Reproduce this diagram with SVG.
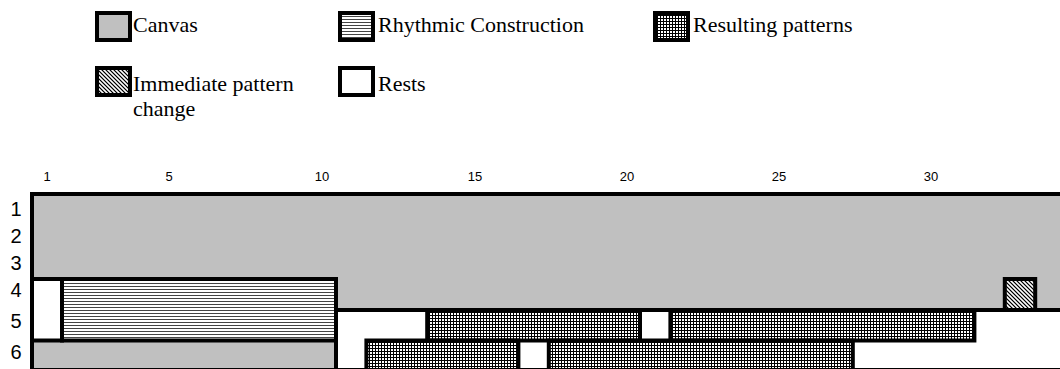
<svg xmlns="http://www.w3.org/2000/svg" width="1060" height="369" viewBox="0 0 1060 369">
<defs>
<pattern id="hlines" width="4" height="3" patternUnits="userSpaceOnUse">
<rect width="4" height="3" fill="#fff"/>
<rect y="1" width="4" height="1" fill="#444"/>
</pattern>
<pattern id="grid" width="3" height="3" patternUnits="userSpaceOnUse">
<rect width="3" height="3" fill="#000"/>
<rect x="1" y="1" width="2" height="2" fill="#fff"/>
</pattern>
<pattern id="diag" width="4" height="4" patternUnits="userSpaceOnUse">
<rect width="4" height="4" fill="#a8a8a8"/>
<rect x="0" y="0" width="1" height="1" fill="#000"/>
<rect x="1" y="1" width="1" height="1" fill="#000"/>
<rect x="2" y="2" width="1" height="1" fill="#000"/>
<rect x="3" y="3" width="1" height="1" fill="#000"/>
<rect x="2" y="0" width="1" height="1" fill="#fff"/>
<rect x="3" y="1" width="1" height="1" fill="#fff"/>
<rect x="0" y="2" width="1" height="1" fill="#fff"/>
<rect x="1" y="3" width="1" height="1" fill="#fff"/>
</pattern>
</defs>
<style>
.b{stroke:#000;stroke-width:4;}
.canvas{fill:#c0c0c0;}
.rest{fill:#fff;}
.rc{fill:url(#hlines);}
.rp{fill:url(#grid);}
.ipc{fill:url(#diag);}
.leg{font-family:"Liberation Serif","Times New Roman",serif;font-size:22px;fill:#000;}
.col{font-family:"Liberation Sans",Arial,sans-serif;font-size:13px;fill:#000;text-anchor:middle;}
.row{font-family:"Liberation Sans",Arial,sans-serif;font-size:20px;fill:#000;text-anchor:middle;}
</style>
<rect width="1060" height="369" fill="#fff"/>

<g id="legend-canvas">
<rect class="b canvas" x="97" y="13" width="33" height="27"/>
<text class="leg" x="133" y="32">Canvas</text>
</g>
<g id="legend-rhythmic">
<rect class="b rc" x="340" y="13" width="33" height="27"/>
<text class="leg" x="378" y="32">Rhythmic Construction</text>
</g>
<g id="legend-resulting">
<rect class="b rp" x="655" y="13" width="33" height="27"/>
<text class="leg" x="693" y="32">Resulting patterns</text>
</g>
<g id="legend-immediate">
<rect class="b ipc" x="97" y="68" width="33" height="27"/>
<text class="leg" x="133" y="91">Immediate pattern</text>
<text class="leg" x="133" y="116">change</text>
</g>
<g id="legend-rests">
<rect class="b rest" x="340" y="68" width="33" height="27"/>
<text class="leg" x="378" y="91">Rests</text>
</g>

<g id="column-labels">
<text class="col" x="47" y="181">1</text>
<text class="col" x="169" y="181">5</text>
<text class="col" x="322" y="181">10</text>
<text class="col" x="475" y="181">15</text>
<text class="col" x="627" y="181">20</text>
<text class="col" x="779" y="181">25</text>
<text class="col" x="931" y="181">30</text>
</g>
<g id="row-labels">
<text class="row" x="16" y="216">1</text>
<text class="row" x="16" y="243">2</text>
<text class="row" x="16" y="270">3</text>
<text class="row" x="16" y="297">4</text>
<text class="row" x="16" y="328">5</text>
<text class="row" x="16" y="359">6</text>
</g>

<g id="canvas">
<rect class="b canvas" x="32" y="194" width="1040" height="176"/>
</g>
<g id="rests-area">
<rect class="rest" x="336" y="310" width="730" height="58"/>
<line class="b" x1="336" y1="310" x2="1066" y2="310"/>
<line class="b" x1="336" y1="279" x2="336" y2="370"/>
</g>
<g id="rhythmic-construction">
<rect class="b rest" x="32" y="279" width="30" height="61.5"/>
<rect class="b rc" x="62" y="279" width="274" height="61.5"/>
</g>
<g id="pattern-r5-a">
<rect class="b rp" x="427.2" y="310" width="212.8" height="30.5"/>
</g>
<g id="pattern-r5-b">
<rect class="b rp" x="670.4" y="310" width="304" height="30.5"/>
</g>
<g id="pattern-r6-a">
<rect class="b rp" x="366.4" y="340.5" width="152" height="29.5"/>
</g>
<g id="pattern-r6-b">
<rect class="b rp" x="548.8" y="340.5" width="304" height="29.5"/>
</g>
<g id="immediate-change">
<rect class="b ipc" x="1004.8" y="279" width="30.4" height="31"/>
</g>
</svg>
